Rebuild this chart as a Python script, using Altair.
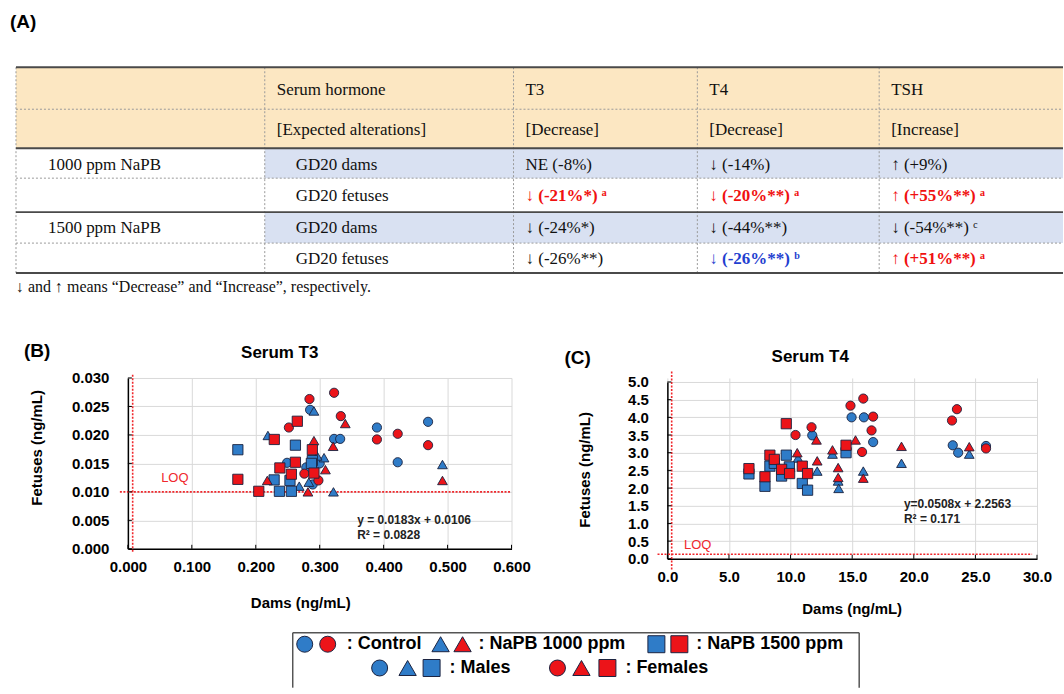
import altair as alt
import pandas as pd

SANS = "Liberation Sans"
SERIF = "Liberation Serif"
BLUE = "#2F7CC8"
RED = "#EC1419"
EDGE = "#1B2340"
LOQ_RED = "#F0282D"
GRID = "#D9D9D9"
HEAD_BG = "#FCE7C2"
DAM_BG = "#D9E1F2"
TXT_RED = "#F01010"
TXT_BLUE = "#1F3FD0"
TXT_BLACK = "#111111"

# ======================= DATA =======================
# ---- (A) table ----
panel_a_label = "(A)"
header_row_1 = ["", "Serum hormone", "T3", "T4", "TSH"]
header_row_2 = ["", "[Expected alterations]", "[Decrease]", "[Decrease]", "[Increase]"]
dose_labels = ["1000 ppm NaPB", "", "1500 ppm NaPB", ""]
sample_labels = ["GD20 dams", "GD20 fetuses", "GD20 dams", "GD20 fetuses"]
t3_changes = ["NE (-8%)", "↓ (-21%*) ᵃ", "↓ (-24%*)", "↓ (-26%**)"]
t4_changes = ["↓ (-14%)", "↓ (-20%**) ᵃ", "↓ (-44%**)", "↓ (-26%**) ᵇ"]
tsh_changes = ["↑ (+9%)", "↑ (+55%**) ᵃ", "↓ (-54%**) ᶜ", "↑ (+51%**) ᵃ"]
t3_marks = ["plain", "red", "plain", "plain"]
t4_marks = ["plain", "red", "plain", "blue"]
tsh_marks = ["plain", "red", "plain", "red"]
footnote = "↓ and ↑ means “Decrease” and “Increase”, respectively."

# ---- groups ----
groups = ["Control", "NaPB 1000 ppm", "NaPB 1500 ppm"]
sexes = ["Males", "Females"]

# ---- (B) Serum T3 : dams (x) vs fetuses (y), ng/mL ----
t3_ctrl_m_x = [0.285, 0.249, 0.279, 0.289, 0.300, 0.3225, 0.332, 0.3895, 0.422, 0.4695]
t3_ctrl_m_y = [0.0244, 0.0151, 0.0143, 0.0113, 0.0150, 0.0193, 0.0193, 0.0213, 0.0152, 0.0223]
t3_ctrl_f_x = [0.284, 0.3225, 0.2518, 0.333, 0.276, 0.298, 0.3895, 0.422, 0.4695]
t3_ctrl_f_y = [0.0263, 0.0274, 0.0213, 0.0233, 0.0132, 0.0120, 0.0192, 0.0202, 0.0182]
t3_n1000_m_x = [0.219, 0.291, 0.3068, 0.3215, 0.268, 0.283, 0.296, 0.492]
t3_n1000_m_y = [0.0199, 0.0242, 0.0160, 0.0100, 0.0110, 0.0117, 0.0163, 0.0148]
t3_n1000_f_x = [0.218, 0.291, 0.309, 0.2816, 0.340, 0.321, 0.492]
t3_n1000_f_y = [0.0120, 0.0190, 0.0139, 0.0100, 0.0220, 0.0180, 0.0120]
t3_n1500_m_x = [0.172, 0.2287, 0.237, 0.2557, 0.2535, 0.262, 0.2885, 0.287]
t3_n1500_m_y = [0.0174, 0.0121, 0.0101, 0.0101, 0.0120, 0.0182, 0.0155, 0.0150]
t3_n1500_f_x = [0.172, 0.2047, 0.229, 0.2377, 0.265, 0.262, 0.2557, 0.2885, 0.291]
t3_n1500_f_y = [0.0122, 0.0101, 0.0192, 0.0142, 0.0224, 0.0152, 0.0131, 0.0174, 0.0133]
t3_loq_fetus = 0.010
t3_loq_dam = 0.0075
t3_fit = ["y = 0.0183x + 0.0106", "R² = 0.0828"]

# ---- (C) Serum T4 ----
t4_ctrl_m_x = [14.95, 15.95, 16.7, 11.76, 23.16, 23.6, 25.86]
t4_ctrl_m_y = [4.0, 4.0, 3.30, 3.49, 3.21, 3.0, 3.19]
t4_ctrl_f_x = [14.86, 15.9, 16.7, 16.57, 15.8, 11.7, 10.4, 23.1, 23.5, 25.86]
t4_ctrl_f_y = [4.33, 4.53, 4.02, 3.63, 3.02, 3.72, 3.50, 3.91, 4.23, 3.12]
t4_n1000_m_x = [10.6, 12.16, 13.4, 13.86, 13.9, 15.9, 19.0, 24.5]
t4_n1000_m_y = [2.85, 2.48, 2.96, 2.20, 1.99, 2.48, 2.70, 2.96]
t4_n1000_f_x = [10.54, 12.1, 12.16, 13.4, 13.86, 13.86, 15.27, 15.9, 19.0, 24.5]
t4_n1000_f_y = [3.0, 3.36, 2.77, 3.08, 2.58, 2.30, 3.36, 2.28, 3.18, 3.17]
t4_n1500_m_x = [6.62, 7.92, 8.32, 8.68, 9.27, 9.65, 9.9, 10.95, 11.38, 14.5]
t4_n1500_m_y = [2.40, 2.05, 2.62, 2.70, 2.34, 2.93, 2.60, 2.13, 1.94, 3.0]
t4_n1500_f_x = [9.65, 6.62, 7.92, 8.32, 8.68, 9.27, 9.92, 10.95, 11.38, 14.5]
t4_n1500_f_y = [3.82, 2.55, 2.32, 2.93, 2.81, 2.53, 2.41, 2.62, 2.41, 3.21]
t4_loq_fetus = 0.13
t4_loq_dam = 0.35
t4_fit = ["y=0.0508x + 2.2563", "R² = 0.171"]

# ---- legend ----
legend_row1_labels = [": Control", ": NaPB 1000 ppm", ": NaPB 1500 ppm"]
legend_row2_labels = [": Males", ": Females"]

# ======================= LAYOUT (page pixels) =======================
X0, W_ALL, H_ALL = 128, 1064, 688
COL_EDGES = [16, 265, 514, 698, 880, 1064]
ROW_EDGES = [67, 109, 148, 178, 212, 243, 273]
ROW_TEXT_Y = [90, 130, 165, 196, 228, 259]
COL_TEXT_X = [48, 277, 526, 710, 892]
SAMPLE_X = 296
TABLE_H = 378

DUMMY = pd.DataFrame({"a": [0]})

XP = alt.Scale(domain=[X0, W_ALL], nice=False, zero=False)
YP = alt.Scale(domain=[0, TABLE_H], nice=False, zero=False, reverse=True)

mark_color = {"plain": TXT_BLACK, "red": TXT_RED, "blue": TXT_BLUE}
color_scale = alt.Scale(domain=sexes, range=[BLUE, RED])


def enc_xy():
    return dict(x=alt.X("x:Q", scale=XP, axis=None), y=alt.Y("y:Q", scale=YP, axis=None))


# ---------------- page layer: table (A) + legend ----------------
rects = [dict(x=COL_EDGES[0], x2=COL_EDGES[-1], y=ROW_EDGES[0], y2=ROW_EDGES[2], fill=HEAD_BG),
         dict(x=COL_EDGES[1], x2=COL_EDGES[-1], y=ROW_EDGES[2], y2=ROW_EDGES[3], fill=DAM_BG),
         dict(x=COL_EDGES[1], x2=COL_EDGES[-1], y=ROW_EDGES[4], y2=ROW_EDGES[5], fill=DAM_BG)]
solid = [dict(x=COL_EDGES[0], x2=COL_EDGES[-1], y=ROW_EDGES[i], y2=ROW_EDGES[i]) for i in (0, 2, 4, 6)]
dotted = [dict(x=COL_EDGES[0], x2=COL_EDGES[-1], y=ROW_EDGES[i], y2=ROW_EDGES[i]) for i in (1, 3, 5)]
dotted += [dict(x=c, x2=c, y=ROW_EDGES[0], y2=ROW_EDGES[-1]) for c in COL_EDGES[:-1]]

texts = []
for i in range(1, 5):
    texts.append(dict(x=COL_TEXT_X[i], y=ROW_TEXT_Y[0], t=header_row_1[i], m="plain"))
    texts.append(dict(x=COL_TEXT_X[i], y=ROW_TEXT_Y[1], t=header_row_2[i], m="plain"))
for r in range(4):
    yy = ROW_TEXT_Y[2 + r]
    if dose_labels[r]:
        texts.append(dict(x=COL_TEXT_X[0], y=yy, t=dose_labels[r], m="plain"))
    texts.append(dict(x=SAMPLE_X, y=yy, t=sample_labels[r], m="plain"))
    for ci, (vals, mk) in enumerate([(t3_changes, t3_marks), (t4_changes, t4_marks), (tsh_changes, tsh_marks)]):
        texts.append(dict(x=COL_TEXT_X[2 + ci], y=yy, t=vals[r], m=mk[r]))
text_df = pd.DataFrame(texts)
text_df["c"] = text_df["m"].map(mark_color)

# legend
LR1, LR2 = 644.5, 668.3
leg_marks = pd.DataFrame([
    dict(x=305, y=LR1, sex="Males", shp="circle"), dict(x=328, y=LR1, sex="Females", shp="circle"),
    dict(x=441, y=LR1, sex="Males", shp="triangle-up"), dict(x=463, y=LR1, sex="Females", shp="triangle-up"),
    dict(x=657, y=LR1, sex="Males", shp="square"), dict(x=680, y=LR1, sex="Females", shp="square"),
    dict(x=380, y=LR2, sex="Males", shp="circle"), dict(x=408, y=LR2, sex="Males", shp="triangle-up"),
    dict(x=432, y=LR2, sex="Males", shp="square"), dict(x=558, y=LR2, sex="Females", shp="circle"),
    dict(x=582, y=LR2, sex="Females", shp="triangle-up"), dict(x=608, y=LR2, sex="Females", shp="square"),
])
leg_text = pd.DataFrame([
    dict(x=347, y=LR1, t=legend_row1_labels[0]), dict(x=479, y=LR1, t=legend_row1_labels[1]),
    dict(x=697, y=LR1, t=legend_row1_labels[2]),
    dict(x=450, y=LR2, t=legend_row2_labels[0]), dict(x=626, y=LR2, t=legend_row2_labels[1]),
])
box = pd.DataFrame([dict(x=293, x2=860, y=633, y2=633), dict(x=293, x2=293, y=633, y2=H_ALL),
                    dict(x=860, x2=860, y=633, y2=H_ALL)])

layers = [
    alt.Chart(pd.DataFrame([dict(x=0, x2=W_ALL, y=0, y2=H_ALL)])).mark_rect(opacity=0).encode(
        x2="x2:Q", y2="y2:Q", **enc_xy()),
    alt.Chart(pd.DataFrame(rects)).mark_rect().encode(
        x2="x2:Q", y2="y2:Q", color=alt.Color("fill:N", scale=None), **enc_xy()),
    alt.Chart(pd.DataFrame(dotted)).mark_rule(color="#9a9a9a", strokeWidth=1, strokeDash=[2, 2]).encode(
        x2="x2:Q", y2="y2:Q", **enc_xy()),
    alt.Chart(pd.DataFrame(solid)).mark_rule(color="#4a4a4a", strokeWidth=2).encode(
        x2="x2:Q", y2="y2:Q", **enc_xy()),
    alt.Chart(text_df[text_df.m == "plain"]).mark_text(
        align="left", baseline="middle", font=SERIF, fontSize=17).encode(
        text="t:N", color=alt.Color("c:N", scale=None), **enc_xy()),
    alt.Chart(text_df[text_df.m != "plain"]).mark_text(
        align="left", baseline="middle", font=SERIF, fontSize=17, fontWeight="bold").encode(
        text="t:N", color=alt.Color("c:N", scale=None), **enc_xy()),
    alt.Chart(pd.DataFrame([dict(x=10, y=22, t=panel_a_label)])).mark_text(
        align="left", baseline="middle", font=SANS, fontSize=19, fontWeight="bold", color="black").encode(
        text="t:N", **enc_xy()),
    alt.Chart(pd.DataFrame([dict(x=16, y=287, t=footnote)])).mark_text(
        align="left", baseline="middle", font=SERIF, fontSize=16, color=TXT_BLACK).encode(
        text="t:N", **enc_xy()),
    alt.Chart(box).mark_rule(color="#555555", strokeWidth=1.5).encode(x2="x2:Q", y2="y2:Q", **enc_xy()),
]
for shp, sz in [("circle", 256), ("triangle-up", 300), ("square", 289)]:
    layers.append(alt.Chart(leg_marks[leg_marks.shp == shp]).mark_point(
        shape=shp, size=sz, filled=True, opacity=1, stroke=EDGE, strokeWidth=1).encode(
        color=alt.Color("sex:N", scale=color_scale, legend=None), **enc_xy()))
layers.append(alt.Chart(leg_text).mark_text(
    align="left", baseline="middle", font=SANS, fontSize=18, fontWeight="bold", color="black").encode(
    text="t:N", **enc_xy()))
page_chart = alt.layer(*layers).properties(width=W_ALL - X0, height=TABLE_H)

# ---------------- scatter panels ----------------
shape_scale = alt.Scale(domain=groups, range=["circle", "triangle-up", "square"])
size_scale = alt.Scale(domain=groups, range=[85, 105, 120])


def points_frame(d):
    rows = []
    for sex in sexes:
        for g in groups:
            xs, ys = d[(g, sex)]
            for a, b in zip(xs, ys):
                rows.append(dict(group=g, sex=sex, x=a, y=b))
    return pd.DataFrame(rows)


def label(text, px, py, size, weight="bold", align="center", angle=0, color="black"):
    kw = dict(align=align, baseline="middle", font=SANS, fontSize=size, fontWeight=weight, color=color)
    if angle:
        kw["angle"] = angle
    return alt.Chart(DUMMY).mark_text(**kw).encode(x=alt.value(px), y=alt.value(py), text=alt.value(text))


def panel(df, xdom, ydom, xticks, yticks, xfmt, yfmt, w, h, yrange, loq_y, loq_x, hspan, vspan,
          loq_lbl_xy, fit_lines, fit_xy, fit_dy, letter, letter_xy, title, title_xy, ytitle_xy, xtitle_xy):
    xsc = alt.Scale(domain=xdom, nice=False, zero=False)
    ysc = alt.Scale(domain=ydom, nice=False, zero=False, range=yrange)
    common = dict(title=None, ticks=False, tickSize=0, labelFont=SANS, labelFontSize=15,
                  labelFontWeight="bold", labelColor="black", domainColor="black", domainWidth=1.5,
                  grid=True, gridColor=GRID, gridWidth=1, labelFlush=False, labelOverlap=False)
    xaxis = alt.Axis(values=xticks, format=xfmt, labelPadding=11, **common)
    yaxis = alt.Axis(values=yticks, format=yfmt, labelPadding=19, **common)

    def X(f):
        return alt.X(f, scale=xsc, axis=xaxis)

    def Y(f):
        return alt.Y(f, scale=ysc, axis=yaxis)

    pts = alt.Chart(df).mark_point(filled=True, opacity=1, stroke=EDGE, strokeWidth=0.9).encode(
        x=X("x:Q"), y=Y("y:Q"),
        color=alt.Color("sex:N", scale=color_scale, legend=None),
        shape=alt.Shape("group:N", scale=shape_scale, legend=None),
        size=alt.Size("group:N", scale=size_scale, legend=None),
    )
    hl = alt.Chart(pd.DataFrame([dict(x=hspan[0], b=hspan[1], y=loq_y)])).mark_rule(
        color=LOQ_RED, strokeWidth=1.6, strokeDash=[2, 1.5]).encode(x=X("x:Q"), x2="b:Q", y=Y("y:Q"))
    vl = alt.Chart(pd.DataFrame([dict(y=vspan[0], b=vspan[1], x=loq_x)])).mark_rule(
        color=LOQ_RED, strokeWidth=1.6, strokeDash=[2, 1.5]).encode(y=Y("y:Q"), y2="b:Q", x=X("x:Q"))
    ytk = alt.Chart(pd.DataFrame({"y": yticks})).mark_rule(color="black", strokeWidth=1).encode(
        y=Y("y:Q"), x=alt.value(0), x2=alt.value(4))
    xtk = alt.Chart(pd.DataFrame({"x": xticks})).mark_rule(color="black", strokeWidth=1).encode(
        x=X("x:Q"), y=alt.value(h), y2=alt.value(h - 4))
    loq_t = alt.Chart(pd.DataFrame([dict(x=loq_lbl_xy[0], y=loq_lbl_xy[1], t="LOQ")])).mark_text(
        align="left", baseline="middle", font=SANS, fontSize=13, color=LOQ_RED).encode(
        x=X("x:Q"), y=Y("y:Q"), text="t:N")
    fit_df = pd.DataFrame([dict(x=fit_xy[0], y=fit_xy[1] - i * fit_dy, t=s) for i, s in enumerate(fit_lines)])
    fit_t = alt.Chart(fit_df).mark_text(
        align="left", baseline="middle", font=SANS, fontSize=12, fontWeight="bold", color="#222222").encode(
        x=X("x:Q"), y=Y("y:Q"), text="t:N")
    lay = [hl, vl, pts, ytk, xtk, loq_t, fit_t,
           label(letter, letter_xy[0], letter_xy[1], 19, align="left"),
           label(title, title_xy[0], title_xy[1], 17),
           label("Fetuses (ng/mL)", ytitle_xy[0], ytitle_xy[1], 15, angle=270),
           label("Dams (ng/mL)", xtitle_xy[0], xtitle_xy[1], 15)]
    return alt.layer(*lay).properties(width=w, height=h)


t3_df = points_frame({
    ("Control", "Males"): (t3_ctrl_m_x, t3_ctrl_m_y), ("Control", "Females"): (t3_ctrl_f_x, t3_ctrl_f_y),
    ("NaPB 1000 ppm", "Males"): (t3_n1000_m_x, t3_n1000_m_y), ("NaPB 1000 ppm", "Females"): (t3_n1000_f_x, t3_n1000_f_y),
    ("NaPB 1500 ppm", "Males"): (t3_n1500_m_x, t3_n1500_m_y), ("NaPB 1500 ppm", "Females"): (t3_n1500_f_x, t3_n1500_f_y),
})
t4_df = points_frame({
    ("Control", "Males"): (t4_ctrl_m_x, t4_ctrl_m_y), ("Control", "Females"): (t4_ctrl_f_x, t4_ctrl_f_y),
    ("NaPB 1000 ppm", "Males"): (t4_n1000_m_x, t4_n1000_m_y), ("NaPB 1000 ppm", "Females"): (t4_n1000_f_x, t4_n1000_f_y),
    ("NaPB 1500 ppm", "Males"): (t4_n1500_m_x, t4_n1500_m_y), ("NaPB 1500 ppm", "Females"): (t4_n1500_f_x, t4_n1500_f_y),
})

b_ticks_x = [0.0, 0.1, 0.2, 0.3, 0.4, 0.5, 0.6]
b_ticks_y = [0.0, 0.005, 0.010, 0.015, 0.020, 0.025, 0.030]
c_ticks_x = [0, 5, 10, 15, 20, 25, 30]
c_ticks_y = [0.0, 0.5, 1.0, 1.5, 2.0, 2.5, 3.0, 3.5, 4.0, 4.5, 5.0]

panel_b = panel(t3_df, [0, 0.6], [0, 0.030], b_ticks_x, b_ticks_y, ".3f", ".3f", 384, 171, [171, 0],
                t3_loq_fetus, t3_loq_dam, (-0.0125, 0.6), (-0.0005, 0.0306),
                (0.052, 0.0125), t3_fit, (0.3586, 0.0050), 0.0025,
                "(B)", (-104, -27), "Serum T3", (152, -25), (-91, 70), (173, 225))
panel_c = panel(t4_df, [0, 30], [0, 5], c_ticks_x, c_ticks_y, ".1f", ".1f", 370, 181, [181, 4],
                t4_loq_fetus, t4_loq_dam, (-0.8, 29.6), (-0.3, 5.3),
                (1.35, 0.38), t4_fit, (19.2, 1.54), 0.41,
                "(C)", (-103, -20), "Serum T4", (143, -21), (-82, 92), (185, 231))

chart = alt.vconcat(
    page_chart,
    alt.hconcat(panel_b, panel_c, spacing=156, bounds="flush"),
    spacing=0, bounds="flush",
).properties(padding=0).configure_view(strokeWidth=0)

chart.save("out.html", embed_options={"renderer": "svg", "actions": False})
